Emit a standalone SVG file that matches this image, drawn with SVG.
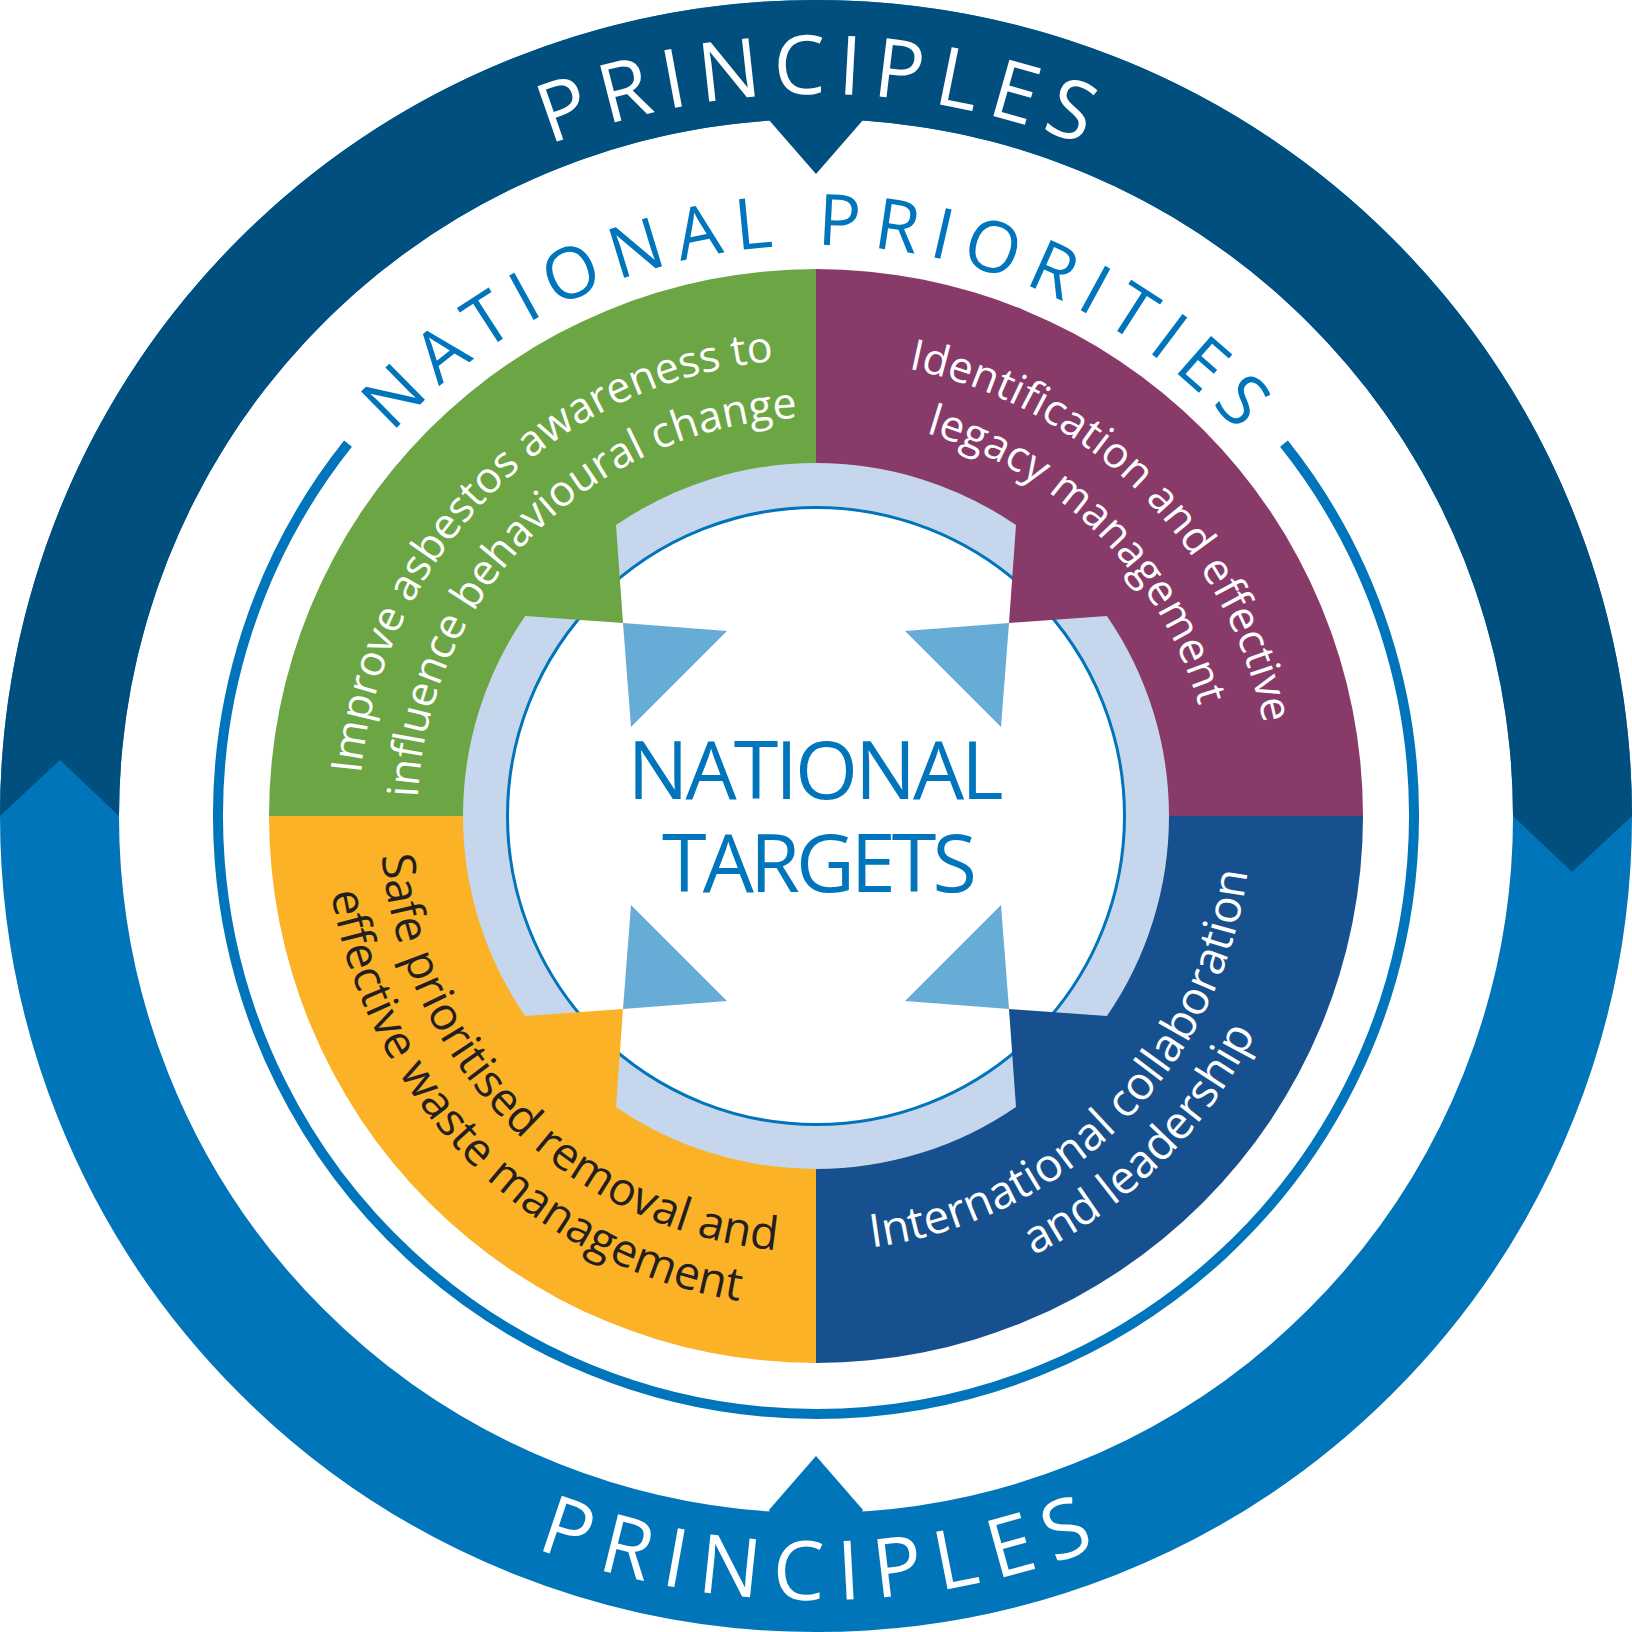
<svg xmlns="http://www.w3.org/2000/svg" width="1632" height="1632" viewBox="0 0 1632 1632">
<style>
  .t{font-family:"Open Sans","Noto Sans","Liberation Sans",sans-serif;}
  .pr{font-size:82px;fill:#ffffff;}
  .np{font-size:71px;fill:#0075bb;letter-spacing:12.4px;}
  .qa{font-size:43px;fill:#ffffff;}
  .qb{font-size:46px;}
  .tri{fill:#67acd6;}
  .ct{font-size:81px;fill:#0075bb;}
</style>
<defs>
  <path id="pTop" d="M94 816 A722 722 0 0 1 1538 816"/>
  <path id="pBot" d="M32 816 A784 784 0 0 0 1600 816"/>
  <path id="pNP" d="M245 816 A571 571 0 0 1 1387 816"/>
  <path id="pG1" d="M492.85 1139.15 A457 457 0 0 1 1139.15 492.85"/>
  <path id="pG2" d="M533.16 1098.84 A400 400 0 0 1 1098.84 533.16"/>
  <path id="pP1" d="M492.85 492.85 A457 457 0 0 1 1139.15 1139.15"/>
  <path id="pP2" d="M533.16 533.16 A400 400 0 0 1 1098.84 1098.84"/>
  <path id="pY1" d="M507.7 507.7 A436 436 0 0 0 1124.3 1124.3"/>
  <path id="pY2" d="M466 466 A495 495 0 0 0 1166 1166"/>
  <path id="pB1" d="M508.4 1123.6 A435 435 0 0 0 1123.6 508.4"/>
  <path id="pB2" d="M466.7 1165.3 A494 494 0 0 0 1165.3 466.7"/>
</defs>
<rect width="1632" height="1632" fill="#ffffff"/>

<g id="principles-ring">
  <circle cx="816" cy="816" r="756.5" fill="none" stroke="#0075b9" stroke-width="119"/>
  <path fill="#004f7f" d="M0 816 L60 760 L119 816 A697 697 0 0 1 769.4 120.6 L816 174 L862.6 120.6 A697 697 0 0 1 1513 816 L1572 872 L1632 816 A816 816 0 0 0 0 816 Z"/>
  <path fill="#0075b9" d="M769.4 1509.6 L816 1456 L862.6 1509.6 L862.6 1522 L769.4 1522 Z"/>
  <text class="t pr" letter-spacing="11.6"><textPath href="#pTop" startOffset="1140" text-anchor="middle">PRINCIPLES</textPath></text>
  <text class="t pr" letter-spacing="14.6"><textPath href="#pBot" startOffset="1238.8" text-anchor="middle">PRINCIPLES</textPath></text>
</g>

<g id="national-priorities">
  <path d="M1284 443.7 A598 598 0 1 1 348 443.7" fill="none" stroke="#0075bb" stroke-width="10"/>
  <text class="t np"><textPath href="#pNP" startOffset="902" text-anchor="middle">NATIONAL PRIORITIES</textPath></text>
</g>

<g id="target-ring">
  <circle cx="816" cy="816" r="354" fill="#c6d6ec"/>
  <circle cx="816" cy="816" r="308.5" fill="#ffffff" stroke="#0075bb" stroke-width="3"/>
</g>

<g id="priority-awareness">
  <path fill="#6ca543" d="M269 816 A547 547 0 0 1 816 269 L816 463 A353 353 0 0 0 616 525.1 L623 623 L525.1 616 A353 353 0 0 0 463 816 Z"/>
  <text class="t qa"><textPath href="#pG1" startOffset="50%" text-anchor="middle">Improve asbestos awareness to</textPath></text>
  <text class="t qa"><textPath href="#pG2" startOffset="50%" text-anchor="middle">influence behavioural change</textPath></text>
</g>

<g id="priority-identification">
  <path fill="#883a68" d="M816 269 A547 547 0 0 1 1363 816 L1169 816 A353 353 0 0 0 1106.9 616 L1009 623 L1016 525.1 A353 353 0 0 0 816 463 Z"/>
  <text class="t qa"><textPath href="#pP1" startOffset="50%" text-anchor="middle">Identification and effective</textPath></text>
  <text class="t qa"><textPath href="#pP2" startOffset="50%" text-anchor="middle">legacy management</textPath></text>
</g>

<g id="priority-international">
  <path fill="#17508e" d="M1363 816 A547 547 0 0 1 816 1363 L816 1169 A353 353 0 0 0 1016 1106.9 L1009 1009 L1106.9 1016 A353 353 0 0 0 1169 816 Z"/>
  <text class="t qb" fill="#ffffff"><textPath href="#pB1" startOffset="50%" text-anchor="middle">International collaboration</textPath></text>
  <text class="t qb" fill="#ffffff"><textPath href="#pB2" startOffset="50%" text-anchor="middle">and leadership</textPath></text>
</g>

<g id="priority-removal">
  <path fill="#fbb226" d="M816 1363 A547 547 0 0 1 269 816 L463 816 A353 353 0 0 0 525.1 1016 L623 1009 L616 1106.9 A353 353 0 0 0 816 1169 Z"/>
  <text class="t qb" fill="#231f20"><textPath href="#pY1" startOffset="50%" text-anchor="middle">Safe prioritised removal and</textPath></text>
  <text class="t qb" fill="#231f20"><textPath href="#pY2" startOffset="50%" text-anchor="middle">effective waste management</textPath></text>
</g>

<g id="connectors">
  <polygon class="tri" points="623,623 727,631 631,727"/>
  <polygon class="tri" points="1009,623 905,631 1001,727"/>
  <polygon class="tri" points="1009,1009 905,1001 1001,905"/>
  <polygon class="tri" points="623,1009 727,1001 631,905"/>
</g>

<g id="national-targets">
  <text class="t ct" x="814" y="798.7" text-anchor="middle" letter-spacing="-3">NATIONAL</text>
  <text class="t ct" x="817.5" y="891.7" text-anchor="middle" letter-spacing="-4">TARGETS</text>
</g>
</svg>
